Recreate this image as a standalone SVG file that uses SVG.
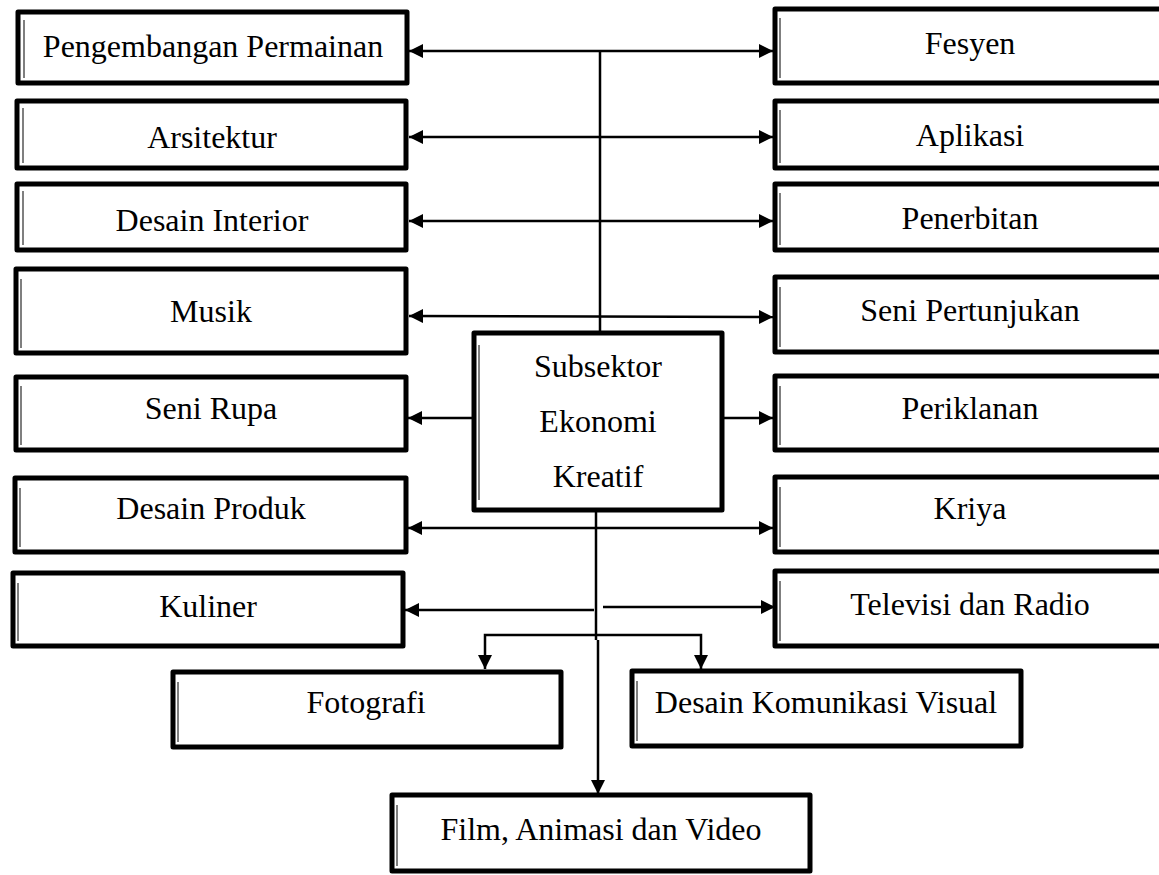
<svg xmlns="http://www.w3.org/2000/svg" width="1159" height="875" viewBox="0 0 1159 875">
<style>
.box{fill:#fff;stroke:#000;stroke-width:5;stroke-linejoin:round}
.inner{stroke:#555;stroke-width:1.5}
.lbl{font-family:"Liberation Serif","Times New Roman",serif;font-size:32px;fill:#000;text-anchor:middle}
.ln{stroke:#000;stroke-width:2.5;fill:none}
.arr{stroke:#000;stroke-width:2.5;fill:none;marker-end:url(#ah)}
.dbl{stroke:#000;stroke-width:2.5;fill:none;marker-end:url(#ah);marker-start:url(#ah)}
</style>
<defs>
<marker id="ah" viewBox="0 0 14 14" refX="14" refY="7" markerWidth="14" markerHeight="14" markerUnits="userSpaceOnUse" orient="auto-start-reverse">
<path d="M0,0 L14,7 L0,14 z" fill="#000"/>
</marker>
</defs>
<rect width="1159" height="875" fill="#fff"/>

<g id="connectors">
<line class="dbl" x1="409" y1="51" x2="773" y2="51"/>
<line class="ln" x1="600" y1="51" x2="600" y2="332"/>
<line class="dbl" x1="409" y1="137" x2="773" y2="137"/>
<line class="dbl" x1="409" y1="221" x2="773" y2="221"/>
<line class="dbl" x1="409" y1="316" x2="773" y2="317"/>
<line class="arr" x1="473" y1="418" x2="408" y2="418"/>
<line class="arr" x1="723" y1="418" x2="773" y2="418"/>
<line class="dbl" x1="408" y1="528" x2="773" y2="528"/>
<polyline class="ln" points="596,511 596,640"/>
<line class="arr" x1="598" y1="640" x2="598" y2="794"/>
<line class="arr" x1="594" y1="610" x2="405" y2="610"/>
<line class="arr" x1="603" y1="607" x2="775" y2="607"/>
<polyline class="arr" points="598,635 485,635 485,669"/>
<polyline class="arr" points="598,635 701,635 701,669"/>
</g>

<g id="n-pengembangan"><rect class="box" x="18" y="12" width="389" height="71"/><line class="inner" x1="24" y1="20" x2="24" y2="78"/><text class="lbl" x="213" y="57">Pengembangan Permainan</text></g>
<g id="n-arsitektur"><rect class="box" x="17" y="101" width="389" height="67"/><line class="inner" x1="23" y1="108" x2="23" y2="163"/><text class="lbl" x="212" y="148">Arsitektur</text></g>
<g id="n-desain-interior"><rect class="box" x="17" y="184" width="389" height="66"/><line class="inner" x1="23" y1="191" x2="23" y2="245"/><text class="lbl" x="212" y="231">Desain Interior</text></g>
<g id="n-musik"><rect class="box" x="16" y="269" width="390" height="84"/><line class="inner" x1="21" y1="279" x2="21" y2="348"/><text class="lbl" x="211" y="322">Musik</text></g>
<g id="n-seni-rupa"><rect class="box" x="16" y="377" width="390" height="73"/><line class="inner" x1="21" y1="386" x2="21" y2="445"/><text class="lbl" x="211" y="419">Seni Rupa</text></g>
<g id="n-desain-produk"><rect class="box" x="15" y="478" width="391" height="74"/><line class="inner" x1="20" y1="488" x2="20" y2="547"/><text class="lbl" x="211" y="519">Desain Produk</text></g>
<g id="n-kuliner"><rect class="box" x="13" y="573" width="390" height="73"/><line class="inner" x1="18" y1="583" x2="18" y2="641"/><text class="lbl" x="208" y="617">Kuliner</text></g>

<g id="n-fesyen"><rect class="box" x="775" y="9" width="392" height="74"/><line class="inner" x1="780" y1="18" x2="780" y2="78"/><text class="lbl" x="970" y="54">Fesyen</text></g>
<g id="n-aplikasi"><rect class="box" x="775" y="101" width="392" height="67"/><line class="inner" x1="780" y1="110" x2="780" y2="163"/><text class="lbl" x="970" y="146">Aplikasi</text></g>
<g id="n-penerbitan"><rect class="box" x="775" y="184" width="392" height="66"/><line class="inner" x1="780" y1="193" x2="780" y2="245"/><text class="lbl" x="970" y="229">Penerbitan</text></g>
<g id="n-seni-pertunjukan"><rect class="box" x="775" y="277" width="392" height="75"/><line class="inner" x1="780" y1="287" x2="780" y2="347"/><text class="lbl" x="970" y="321">Seni Pertunjukan</text></g>
<g id="n-periklanan"><rect class="box" x="775" y="376" width="392" height="74"/><line class="inner" x1="780" y1="386" x2="780" y2="445"/><text class="lbl" x="970" y="419">Periklanan</text></g>
<g id="n-kriya"><rect class="box" x="775" y="477" width="392" height="75"/><line class="inner" x1="780" y1="487" x2="780" y2="547"/><text class="lbl" x="970" y="519">Kriya</text></g>
<g id="n-televisi"><rect class="box" x="775" y="571" width="392" height="75"/><line class="inner" x1="780" y1="581" x2="780" y2="641"/><text class="lbl" x="970" y="615">Televisi dan Radio</text></g>

<g id="n-center"><rect class="box" x="474" y="333" width="248" height="177"/><line class="inner" x1="479" y1="345" x2="479" y2="500"/><text class="lbl" x="598" y="377">Subsektor</text><text class="lbl" x="598" y="432">Ekonomi</text><text class="lbl" x="598" y="487">Kreatif</text></g>

<g id="n-fotografi"><rect class="box" x="173" y="672" width="388" height="75"/><line class="inner" x1="178" y1="682" x2="178" y2="742"/><text class="lbl" x="366" y="713">Fotografi</text></g>
<g id="n-dkv"><rect class="box" x="632" y="671" width="389" height="75"/><line class="inner" x1="637" y1="681" x2="637" y2="741"/><text class="lbl" x="826" y="713">Desain Komunikasi Visual</text></g>
<g id="n-film"><rect class="box" x="392" y="795" width="418" height="76"/><line class="inner" x1="397" y1="805" x2="397" y2="866"/><text class="lbl" x="601" y="840">Film, Animasi dan Video</text></g>
</svg>
